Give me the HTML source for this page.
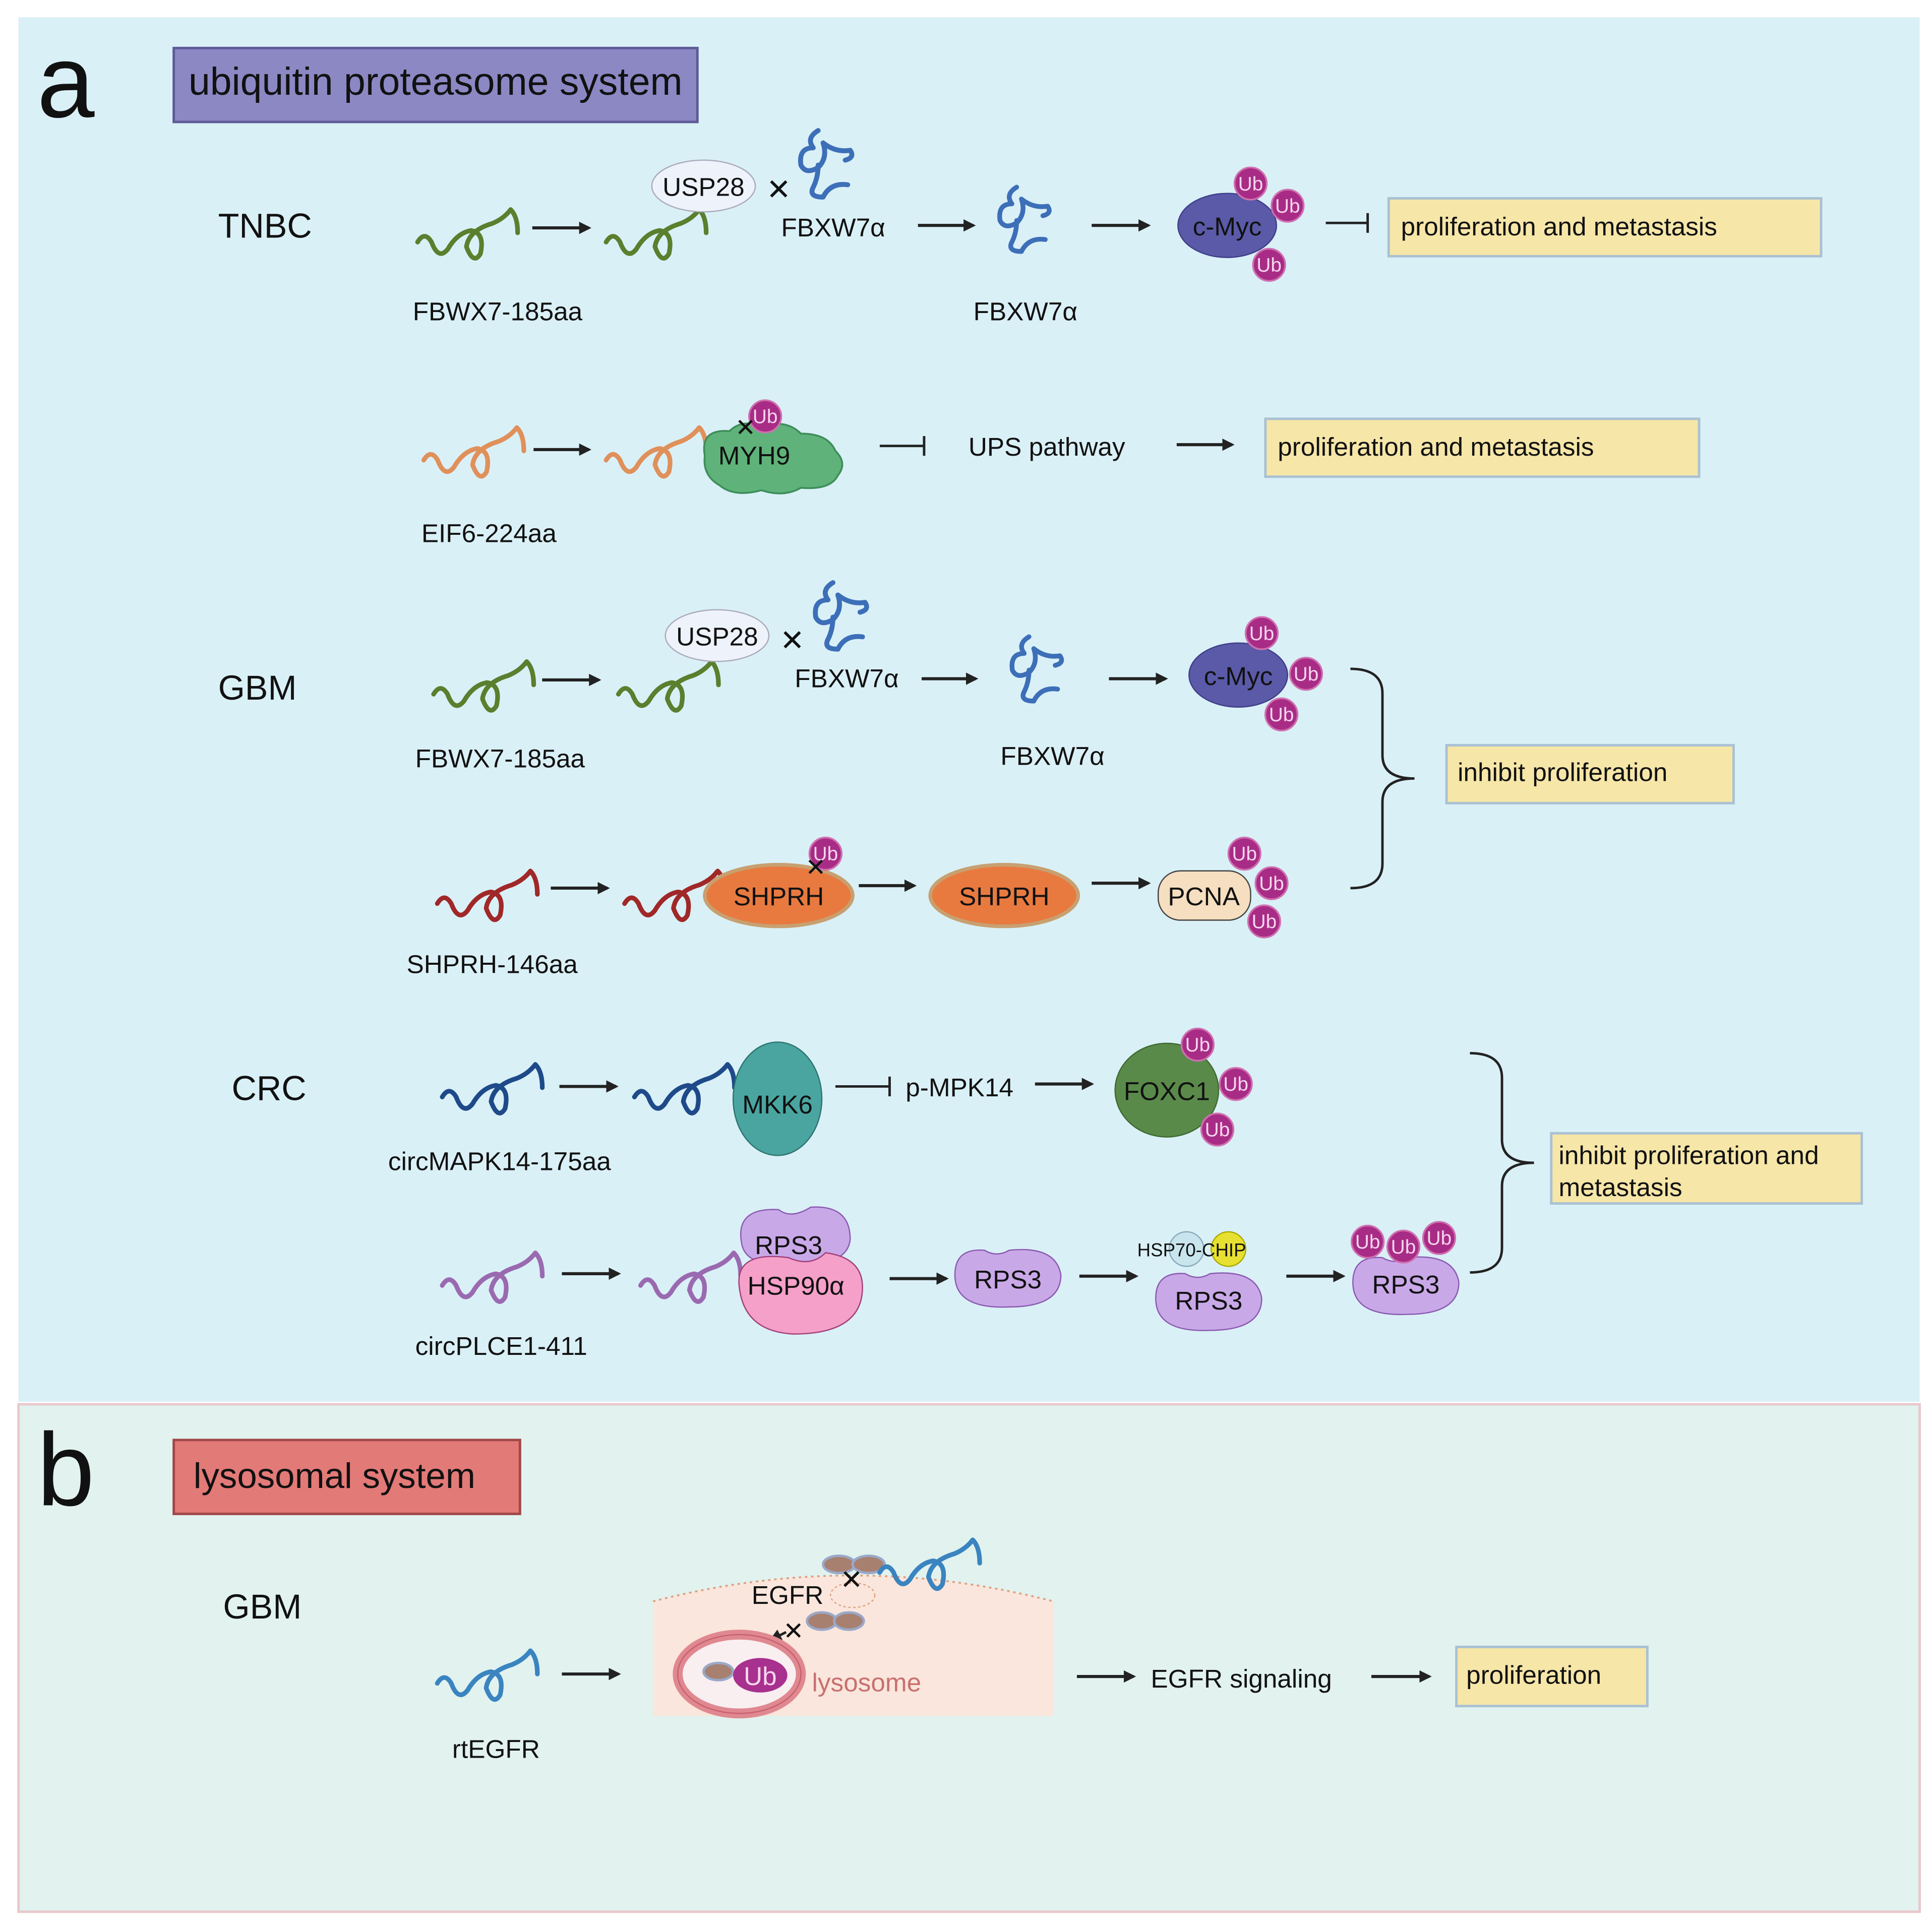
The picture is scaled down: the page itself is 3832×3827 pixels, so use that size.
<!DOCTYPE html>
<html><head><meta charset="utf-8"><style>html,body{margin:0;padding:0;background:#fff}svg{display:block}text{font-family:"Liberation Sans",sans-serif;fill:#111}</style></head>
<body>
<svg width="3832" height="3827" viewBox="0 0 1568 1566" xmlns="http://www.w3.org/2000/svg">
<defs>
<marker id="ah" markerWidth="10" markerHeight="10" refX="8" refY="5" orient="auto" markerUnits="userSpaceOnUse"><path d="M0,0 L10,5 L0,10Z" fill="#222"/></marker>
<symbol id="sq" viewBox="0 0 90 44" overflow="visible"><path d="M2,30 q6,-10 12,0 q6,16 14,6 q8,-14 20,-16 q12,2 8,20 q-6,10 -12,-6 q2,-14 22,-20 q10,-4 16,-12 q6,6 6,20" fill="none" stroke-width="4" stroke-linecap="round" stroke-linejoin="round"/></symbol>
<symbol id="coil" viewBox="0 0 60 60" overflow="visible"><path d="M26,2 q-10,6 -4,14 q-12,0 -10,14 q4,8 14,2 q8,-8 4,-20 q10,8 22,6 q4,6 -4,8 M26,30 q0,10 -4,18 q-4,8 8,8 q6,-12 20,-10" fill="none" stroke="#3d6fb8" stroke-width="4" stroke-linecap="round" stroke-linejoin="round"/></symbol>
<symbol id="ub" viewBox="-15 -15 30 30" overflow="visible"><circle r="14" fill="#a82c86" stroke="#d070b0" stroke-width="1.5"/><text y="6" text-anchor="middle" font-size="17" style="fill:#f6d6ee">Ub</text></symbol>
</defs>
<rect width="1568" height="1566" fill="#fff"/>
<rect x="15" y="14" width="1543" height="1124" fill="#daf0f7"/>
<rect x="15" y="1140" width="1543" height="412" fill="#e1f2ef" stroke="#e8c8cc" stroke-width="2"/>

<text x="30" y="95" font-size="84">a</text>
<rect x="141" y="39" width="425" height="60" fill="#8c88c4" stroke="#5d5a98" stroke-width="2"/>
<text x="153" y="77" font-size="31.5">ubiquitin proteasome system</text>

<g font-size="21">
<!-- TNBC -->
<text x="177" y="193" font-size="28">TNBC</text>
<use href="#sq" x="337" y="168" width="85" height="42" stroke="#5a7f2e"/>
<line x1="432" y1="185" x2="478" y2="185" stroke="#222" stroke-width="2.5" marker-end="url(#ah)"/>
<use href="#sq" x="490" y="168" width="85" height="42" stroke="#5a7f2e"/>
<ellipse cx="571" cy="151" rx="42" ry="21" fill="#eef2fa" stroke="#aab" stroke-width="1"/>
<text x="571" y="159" text-anchor="middle">USP28</text>
<text x="632" y="162" text-anchor="middle" font-size="24">✕</text>
<use href="#coil" x="638" y="104" width="60" height="60"/>
<text x="634" y="192">FBXW7α</text>
<line x1="745" y1="183" x2="790" y2="183" stroke="#222" stroke-width="2.5" marker-end="url(#ah)"/>
<use href="#coil" x="800" y="150" width="58" height="58"/>
<text x="790" y="260">FBXW7α</text>
<text x="335" y="260">FBWX7-185aa</text>
<line x1="886" y1="183" x2="932" y2="183" stroke="#222" stroke-width="2.5" marker-end="url(#ah)"/>
<ellipse cx="996" cy="183" rx="40" ry="26" fill="#5a5aa8" stroke="#3e3e88"/>
<text x="996" y="191" text-anchor="middle">c-Myc</text>
<use href="#ub" x="1001" y="135" width="28" height="28"/>
<use href="#ub" x="1031" y="153" width="28" height="28"/>
<use href="#ub" x="1016" y="201" width="28" height="28"/>
<line x1="1076" y1="181" x2="1110" y2="181" stroke="#222" stroke-width="2"/><line x1="1110" y1="173" x2="1110" y2="189" stroke="#222" stroke-width="2"/>
<rect x="1127" y="161" width="351" height="47" fill="#f6e6a8" stroke="#a9c1d3" stroke-width="2"/>
<text x="1137" y="191">proliferation and metastasis</text>

<!-- EIF6 -->
<use href="#sq" x="342" y="345" width="85" height="42" stroke="#e0905a"/>
<line x1="433" y1="365" x2="478" y2="365" stroke="#222" stroke-width="2.5" marker-end="url(#ah)"/>
<use href="#sq" x="490" y="345" width="85" height="42" stroke="#e0905a"/>
<path d="M572,370 q-4,-22 20,-20 q10,-10 26,-4 q20,-6 32,6 q22,0 28,14 q10,10 2,20 q-6,12 -30,10 q-14,8 -32,2 q-22,6 -34,-4 q-14,-8 -12,-24z" fill="#5fb37a" stroke="#3e8e5a" stroke-width="1.5"/>
<text x="583" y="377">MYH9</text>
<use href="#ub" x="607" y="324" width="28" height="28"/>
<text x="605" y="354" text-anchor="middle" font-size="20">✕</text>
<line x1="714" y1="362" x2="750" y2="362" stroke="#222" stroke-width="2"/><line x1="750" y1="354" x2="750" y2="370" stroke="#222" stroke-width="2"/>
<text x="786" y="370">UPS pathway</text>
<line x1="955" y1="361" x2="1000" y2="361" stroke="#222" stroke-width="2.5" marker-end="url(#ah)"/>
<rect x="1027" y="340" width="352" height="47" fill="#f6e6a8" stroke="#a9c1d3" stroke-width="2"/>
<text x="1037" y="370">proliferation and metastasis</text>
<text x="342" y="440">EIF6-224aa</text>

<!-- GBM -->
<text x="177" y="568" font-size="28">GBM</text>
<use href="#sq" x="350" y="535" width="85" height="42" stroke="#5a7f2e"/>
<line x1="440" y1="552" x2="486" y2="552" stroke="#222" stroke-width="2.5" marker-end="url(#ah)"/>
<use href="#sq" x="500" y="535" width="85" height="42" stroke="#5a7f2e"/>
<ellipse cx="582" cy="516" rx="42" ry="21" fill="#eef2fa" stroke="#aab" stroke-width="1"/>
<text x="582" y="524" text-anchor="middle">USP28</text>
<text x="643" y="528" text-anchor="middle" font-size="24">✕</text>
<use href="#coil" x="650" y="471" width="60" height="60"/>
<text x="645" y="558">FBXW7α</text>
<line x1="748" y1="551" x2="792" y2="551" stroke="#222" stroke-width="2.5" marker-end="url(#ah)"/>
<use href="#coil" x="810" y="515" width="58" height="58"/>
<text x="812" y="621">FBXW7α</text>
<text x="337" y="623">FBWX7-185aa</text>
<line x1="900" y1="551" x2="946" y2="551" stroke="#222" stroke-width="2.5" marker-end="url(#ah)"/>
<ellipse cx="1005" cy="548" rx="40" ry="26" fill="#5a5aa8" stroke="#3e3e88"/>
<text x="1005" y="556" text-anchor="middle">c-Myc</text>
<use href="#ub" x="1010" y="500" width="28" height="28"/>
<use href="#ub" x="1046" y="533" width="28" height="28"/>
<use href="#ub" x="1026" y="566" width="28" height="28"/>

<use href="#sq" x="353" y="705" width="85" height="42" stroke="#a02828"/>
<line x1="447" y1="721" x2="493" y2="721" stroke="#222" stroke-width="2.5" marker-end="url(#ah)"/>
<use href="#sq" x="505" y="705" width="85" height="42" stroke="#a02828"/>
<ellipse cx="632" cy="727" rx="60" ry="25" fill="#e87a40" stroke="#c8a070" stroke-width="3"/>
<text x="632" y="735" text-anchor="middle">SHPRH</text>
<use href="#ub" x="656" y="679" width="28" height="28"/>
<text x="662" y="711" text-anchor="middle" font-size="20">✕</text>
<line x1="697" y1="719" x2="742" y2="719" stroke="#222" stroke-width="2.5" marker-end="url(#ah)"/>
<ellipse cx="815" cy="727" rx="60" ry="25" fill="#e87a40" stroke="#c8a070" stroke-width="3"/>
<text x="815" y="735" text-anchor="middle">SHPRH</text>
<line x1="886" y1="717" x2="932" y2="717" stroke="#222" stroke-width="2.5" marker-end="url(#ah)"/>
<rect x="940" y="707" width="75" height="40" rx="18" fill="#f5dfc0" stroke="#444" stroke-width="1"/>
<text x="977" y="735" text-anchor="middle">PCNA</text>
<use href="#ub" x="996" y="679" width="28" height="28"/>
<use href="#ub" x="1018" y="703" width="28" height="28"/>
<use href="#ub" x="1012" y="734" width="28" height="28"/>
<text x="330" y="790">SHPRH-146aa</text>
<path d="M1096,543 q26,0 26,20 v50 q0,19 26,19 q-26,0 -26,19 v50 q0,20 -26,20" fill="none" stroke="#222" stroke-width="2"/>
<rect x="1174" y="605" width="233" height="47" fill="#f6e6a8" stroke="#a9c1d3" stroke-width="2"/>
<text x="1183" y="634">inhibit proliferation</text>

<!-- CRC -->
<text x="188" y="893" font-size="28">CRC</text>
<use href="#sq" x="357" y="862" width="85" height="42" stroke="#1e4a8a"/>
<line x1="454" y1="882" x2="500" y2="882" stroke="#222" stroke-width="2.5" marker-end="url(#ah)"/>
<use href="#sq" x="513" y="862" width="85" height="42" stroke="#1e4a8a"/>
<ellipse cx="631" cy="892" rx="36" ry="46" fill="#4aa5a0" stroke="#2e7470"/>
<text x="631" y="904" text-anchor="middle">MKK6</text>
<line x1="678" y1="882" x2="722" y2="882" stroke="#222" stroke-width="2"/><line x1="722" y1="874" x2="722" y2="890" stroke="#222" stroke-width="2"/>
<text x="735" y="890">p-MPK14</text>
<line x1="840" y1="880" x2="886" y2="880" stroke="#222" stroke-width="2.5" marker-end="url(#ah)"/>
<ellipse cx="947" cy="885" rx="42" ry="38" fill="#5a8a4a" stroke="#3e6a30"/>
<text x="947" y="893" text-anchor="middle">FOXC1</text>
<use href="#ub" x="958" y="834" width="28" height="28"/>
<use href="#ub" x="989" y="866" width="28" height="28"/>
<use href="#ub" x="974" y="903" width="28" height="28"/>
<text x="315" y="950">circMAPK14-175aa</text>

<use href="#sq" x="357" y="1015" width="85" height="42" stroke="#9a6ab0"/>
<line x1="456" y1="1034" x2="502" y2="1034" stroke="#222" stroke-width="2.5" marker-end="url(#ah)"/>
<use href="#sq" x="518" y="1015" width="85" height="42" stroke="#9a6ab0"/>
<path d="M602,1010 q-6,-30 30,-28 q10,8 26,-2 q32,-2 32,26 q-2,22 -44,20 q-40,4 -44,-16z" fill="#c9a8e8" stroke="#8a5ab0"/>
<text x="640" y="1018" text-anchor="middle">RPS3</text>
<path d="M600,1045 q-4,-30 40,-24 q18,8 30,-4 q30,4 30,28 q0,38 -56,38 q-40,-2 -44,-38z" fill="#f5a0c8" stroke="#a0407a"/>
<text x="646" y="1051" text-anchor="middle">HSP90α</text>
<line x1="722" y1="1038" x2="768" y2="1038" stroke="#222" stroke-width="2.5" marker-end="url(#ah)"/>
<path d="M775,1035 q0,-22 24,-20 q10,6 20,0 q38,-4 42,20 q0,26 -42,26 q-44,2 -44,-26z" fill="#c9a8e8" stroke="#8a5ab0"/>
<text x="818" y="1046" text-anchor="middle">RPS3</text>
<line x1="876" y1="1036" x2="922" y2="1036" stroke="#222" stroke-width="2.5" marker-end="url(#ah)"/>
<circle cx="963" cy="1014" r="14" fill="#c8e4ec" stroke="#8ab"/>
<circle cx="997" cy="1014" r="14" fill="#e8e030" stroke="#aa0"/>
<text x="923" y="1020" font-size="15">HSP70-CHIP</text>
<path d="M938,1054 q0,-22 24,-20 q10,6 20,0 q38,-4 42,20 q0,26 -42,26 q-44,2 -44,-26z" fill="#c9a8e8" stroke="#8a5ab0"/>
<text x="981" y="1063" text-anchor="middle">RPS3</text>
<line x1="1044" y1="1036" x2="1090" y2="1036" stroke="#222" stroke-width="2.5" marker-end="url(#ah)"/>
<path d="M1098,1041 q0,-22 24,-20 q10,6 20,0 q38,-4 42,20 q0,26 -42,26 q-44,2 -44,-26z" fill="#c9a8e8" stroke="#8a5ab0"/>
<text x="1141" y="1050" text-anchor="middle">RPS3</text>
<use href="#ub" x="1096" y="994" width="28" height="28"/>
<use href="#ub" x="1125" y="998" width="28" height="28"/>
<use href="#ub" x="1154" y="991" width="28" height="28"/>
<text x="337" y="1100">circPLCE1-411</text>
<path d="M1193,855 q26,0 26,20 v50 q0,19 26,19 q-26,0 -26,19 v50 q0,20 -26,20" fill="none" stroke="#222" stroke-width="2"/>
<rect x="1259" y="920" width="252" height="57" fill="#f6e6a8" stroke="#a9c1d3" stroke-width="2"/>
<text x="1265" y="945">inhibit proliferation and</text>
<text x="1265" y="971">metastasis</text>

<!-- panel b -->
<text x="30" y="1222" style="font-size:84px">b</text>
<rect x="141" y="1169" width="281" height="60" fill="#e27a78" stroke="#a04848" stroke-width="2"/>
<text x="157" y="1208" font-size="29">lysosomal system</text>
<text x="181" y="1314" font-size="28">GBM</text>
<use href="#sq" x="353" y="1338" width="85" height="42" stroke="#3a84c0"/>
<text x="367" y="1427">rtEGFR</text>
<line x1="456" y1="1359" x2="502" y2="1359" stroke="#222" stroke-width="2.5" marker-end="url(#ah)"/>
<path d="M530,1300 Q692,1258 855,1300 L855,1393 L530,1393Z" fill="#fae6dc"/>
<path d="M530,1300 Q692,1258 855,1300" fill="none" stroke="#e0a080" stroke-width="1.5" stroke-dasharray="2,3"/>
<ellipse cx="681" cy="1270" rx="13" ry="7" fill="#a88070" stroke="#9aa8c8" stroke-width="2"/>
<ellipse cx="705" cy="1270" rx="13" ry="7" fill="#a88070" stroke="#9aa8c8" stroke-width="2"/>
<use href="#sq" x="712" y="1248" width="85" height="42" stroke="#3a84c0"/>
<ellipse cx="692" cy="1295" rx="18" ry="10" fill="none" stroke="#e0a080" stroke-dasharray="2,2"/>
<text x="691" y="1290" text-anchor="middle" font-size="22">✕</text>
<text x="610" y="1302">EGFR</text>
<ellipse cx="667" cy="1316" rx="12" ry="7" fill="#a88070" stroke="#9aa8c8" stroke-width="2"/>
<ellipse cx="689" cy="1316" rx="12" ry="7" fill="#a88070" stroke="#9aa8c8" stroke-width="2"/>
<line x1="638" y1="1325" x2="626" y2="1331" stroke="#222" stroke-width="2" marker-end="url(#ah)"/>
<text x="644" y="1331" text-anchor="middle" font-size="20">✕</text>
<ellipse cx="600" cy="1359" rx="50" ry="32" fill="#f9eef0" stroke="#e08890" stroke-width="8"/>
<ellipse cx="600" cy="1359" rx="50" ry="32" fill="none" stroke="#c86070" stroke-width="1"/>
<ellipse cx="583" cy="1357" rx="12" ry="7" fill="#a88070" stroke="#9aa8c8" stroke-width="2"/>
<ellipse cx="617" cy="1360" rx="22" ry="14" fill="#a8308e"/>
<text x="617" y="1368" text-anchor="middle" style="fill:#f6d6ee">Ub</text>
<text x="659" y="1373" style="fill:#c87070">lysosome</text>
<line x1="874" y1="1361" x2="920" y2="1361" stroke="#222" stroke-width="2.5" marker-end="url(#ah)"/>
<text x="934" y="1370">EGFR signaling</text>
<line x1="1113" y1="1361" x2="1160" y2="1361" stroke="#222" stroke-width="2.5" marker-end="url(#ah)"/>
<rect x="1182" y="1337" width="155" height="48" fill="#f6e6a8" stroke="#a9c1d3" stroke-width="2"/>
<text x="1190" y="1367">proliferation</text>
</g>
</svg>
</body></html>
